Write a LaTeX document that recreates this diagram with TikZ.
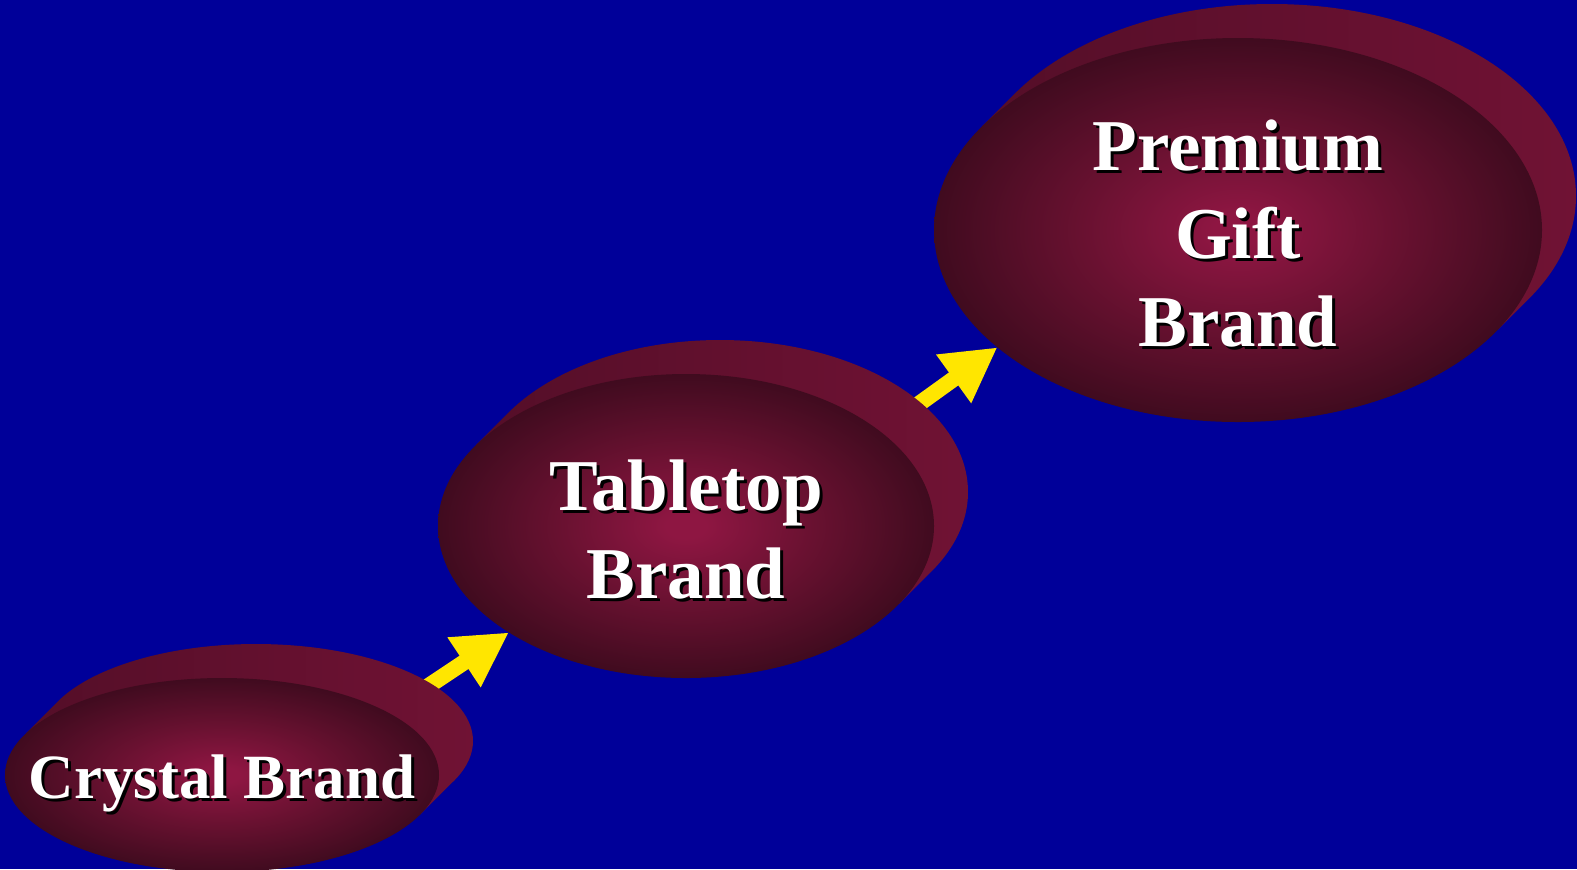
\documentclass[tikz,border=0pt]{standalone}
\usepackage{fontspec}
\setmainfont{Liberation Serif}
\usetikzlibrary{arrows.meta,shapes.geometric,calc}

\definecolor{slideblue}{RGB}{0,0,153}
\definecolor{brandcore}{RGB}{142,22,66}
\definecolor{brandmid}{RGB}{104,17,48}
\definecolor{brandrim}{RGB}{64,11,31}
\definecolor{sidedark}{RGB}{84,14,40}
\definecolor{sidelight}{RGB}{112,18,52}
\definecolor{arrowyellow}{RGB}{255,230,0}

\pgfdeclareradialshading{brandglow}{\pgfpoint{0bp}{0bp}}{color(0bp)=(brandcore); color(2bp)=(brandcore); color(13bp)=(brandmid); color(25bp)=(brandrim); color(100bp)=(brandrim)}

\pgfdeclarelayer{slide}
\pgfdeclarelayer{rims}
\pgfsetlayers{slide,rims,main}

% white bold text with a small black drop shadow
\newcommand\brandlabel[1]{\rlap{\raisebox{-1.5pt}{\hspace{1.5pt}\color{black}\begin{tabular}{@{}c@{}}#1\end{tabular}}}\begin{tabular}{@{}c@{}}#1\end{tabular}}

\begin{document}
\begin{tikzpicture}[x=0.5pt, y=-0.5pt,
  blob/.style 2 args={ellipse, inner sep=0pt, outer sep=0pt, minimum width=#1, minimum height=#2, shading=brandglow},
  rim/.style 2 args={ellipse, inner sep=0pt, outer sep=0pt, minimum width=#1, minimum height=#2},
  rimshade/.style={shading angle=-60, left color=sidedark, right color=sidelight},
  brandtxt/.style={text=white, inner sep=0pt, font=\fontsize{36.5}{44}\selectfont\bfseries},
  stepline/.style={line width=8pt, arrowyellow, -{Triangle[length=27pt, width=28pt]}}]
	\useasboundingbox (0,0) rectangle (1577,869);

	% front faces
	\node[blob={217pt}{97pt}] (crystal) at (222,775) {};
	\node[blob={248pt}{152pt}] (tabletop) at (686,526) {};
	\node[blob={304pt}{192pt}] (premium) at (1238,230) {};

	% back faces, pushed up and to the right
	\node[rim={217pt}{97pt}] (crystalback) at ($(crystal)+(34,-34)$) {};
	\node[rim={248pt}{152pt}] (tabletopback) at ($(tabletop)+(34,-34)$) {};
	\node[rim={304pt}{192pt}] (premiumback) at ($(premium)+(34,-34)$) {};

	% side walls: back face plus the band joining the two tangent points
	\begin{pgfonlayer}{rims}
	\foreach \n/\a/\rx/\ry in {crystal/11.3/108.5/48.5, tabletop/20.6/124/76, premium/21.8/152/96} {
		\shade[rimshade] (\n.-\a) -- (\n back.-\a) -- (\n back.180-\a) -- (\n.180-\a) -- cycle
			(\n back.center) ellipse [x radius=\rx pt, y radius=\ry pt];
	}
	\end{pgfonlayer}

	% labels
	\node[brandtxt, font=\fontsize{31.5}{38}\selectfont\bfseries, yshift=-4.8pt] (crystaltxt) at (crystal) {\brandlabel{Crystal Brand}};
	\node[brandtxt, yshift=-6pt] (tabletoptxt) at (tabletop) {\brandlabel{Tabletop\\Brand}};
	\node[brandtxt, yshift=-6pt] (premiumtxt) at (premium) {\brandlabel{Premium\\Gift\\Brand}};

	\begin{pgfonlayer}{slide}
	\fill[slideblue] (0,0) rectangle (1577,869);
	\draw[stepline] ($(tabletop.211)!1.4!(crystalback.18)$) -- (tabletop.211);
	\draw[stepline] ($(premium.206)!1.4!(tabletopback.24)$) -- (premium.206);
	\end{pgfonlayer}
\end{tikzpicture}
\end{document}
